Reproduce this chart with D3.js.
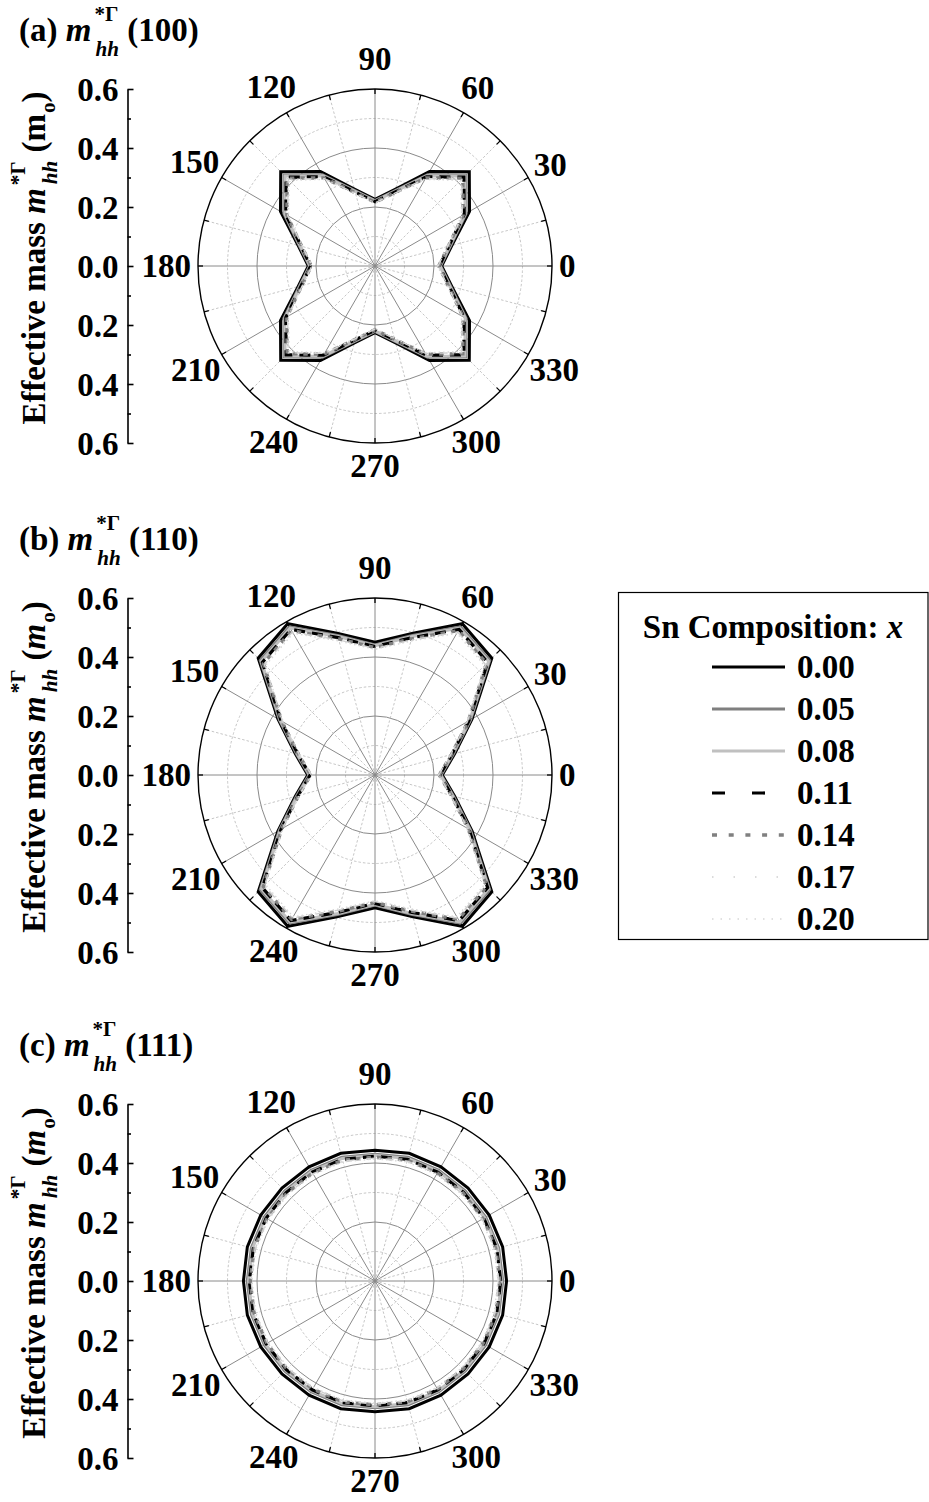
<!DOCTYPE html>
<html>
<head>
<meta charset="utf-8">
<script src="https://cdn.jsdelivr.net/npm/d3@7"></script>
<style>
  html, body { margin: 0; padding: 0; background: #fff; }
  svg text { font-family: "Liberation Serif", "Times New Roman", serif; font-weight: bold; fill: #000; white-space: pre; }
</style>
</head>
<body>
<svg id="chart" width="929" height="1502"></svg>
<script>
// Heavy-hole effective mass (in m0) versus in-plane angle, one quadrant per series
// (0°..90° in 15° steps). Each curve is mirror-symmetric about both axes.
const angleDeg = [0, 15, 30, 45, 60, 75, 90];
const compositions = ["0.00", "0.05", "0.08", "0.11", "0.14", "0.17", "0.20"];
const angleLabels = [0, 30, 60, 90, 120, 150, 180, 210, 240, 270, 300, 330];
const radialTicks = [-0.6, -0.4, -0.2, 0.0, 0.2, 0.4, 0.6];

// (100) plane
const mass100 = [
  [0.226, 0.270, 0.370, 0.452, 0.370, 0.270, 0.226],
  [0.222, 0.265, 0.357, 0.436, 0.357, 0.265, 0.222],
  [0.220, 0.262, 0.353, 0.431, 0.353, 0.262, 0.220],
  [0.218, 0.259, 0.349, 0.426, 0.349, 0.259, 0.218],
  [0.216, 0.257, 0.345, 0.421, 0.345, 0.257, 0.216],
  [0.214, 0.255, 0.342, 0.416, 0.342, 0.255, 0.214],
  [0.212, 0.253, 0.339, 0.411, 0.339, 0.253, 0.212]
];
// (110) plane
const mass110 = [
  [0.228, 0.280, 0.380, 0.560, 0.592, 0.498, 0.450],
  [0.224, 0.275, 0.374, 0.550, 0.580, 0.490, 0.441],
  [0.222, 0.272, 0.371, 0.545, 0.575, 0.486, 0.438],
  [0.220, 0.270, 0.368, 0.540, 0.570, 0.482, 0.435],
  [0.218, 0.268, 0.365, 0.535, 0.565, 0.478, 0.432],
  [0.216, 0.266, 0.362, 0.530, 0.560, 0.474, 0.429],
  [0.214, 0.264, 0.359, 0.525, 0.555, 0.470, 0.426]
];
// (111) plane
const mass111 = [
  [0.446, 0.448, 0.447, 0.446, 0.447, 0.448, 0.443],
  [0.433, 0.434, 0.433, 0.432, 0.433, 0.434, 0.430],
  [0.429, 0.430, 0.429, 0.428, 0.429, 0.430, 0.426],
  [0.426, 0.427, 0.426, 0.425, 0.426, 0.427, 0.423],
  [0.423, 0.424, 0.423, 0.422, 0.423, 0.424, 0.420],
  [0.420, 0.421, 0.420, 0.419, 0.420, 0.421, 0.417],
  [0.417, 0.418, 0.417, 0.416, 0.417, 0.418, 0.414]
];

const panelLetters = ["(a)", "(b)", "(c)"];
const panelPlanes = ["(100)", "(110)", "(111)"];
const panelData = [mass100, mass110, mass111];

// line styles per composition
const seriesStyle = [
  { color: "#000000", width: 3,   dash: null,        legendDash: null },
  { color: "#7f7f7f", width: 3,   dash: null,        legendDash: null },
  { color: "#c0c0c0", width: 3,   dash: null,        legendDash: null },
  { color: "#000000", width: 3.2, dash: "11 7",      legendDash: "13 27" },
  { color: "#808080", width: 3.4, dash: "4.5 6",     legendDash: "5 11.7" },
  { color: "#cfcfcf", width: 1.4, dash: "8 5 1.5 5", legendDash: "1.5 20" },
  { color: "#d8d8d8", width: 1.4, dash: "1.5 3",     legendDash: "1.5 7" }
];

const FONT = 33;
const svg = d3.select("#chart");
const cx = 375, R = 177;
const centersY = [266, 775, 1281];
const rScale = d3.scaleLinear().domain([0, 0.6]).range([0, R]);
const toRad = d => d * Math.PI / 180;

// draws a run of text pieces; {sup, sub} pieces stack a superscript over a subscript
function richText(parent, parts, size) {
  const g = parent.append("g");
  let x = 0;
  parts.forEach(p => {
    if (p.sup !== undefined || p.sub !== undefined) {
      let w = 0;
      const s = size * 0.64;
      if (p.sup) {
        const t = g.append("text").attr("x", x + (p.supShift || 0)).attr("y", -size * 0.6)
          .style("font-size", s + "px").style("font-style", p.supItalic ? "italic" : "normal").text(p.sup);
        w = Math.max(w, t.node().getComputedTextLength() + (p.supShift || 0));
      }
      if (p.sub) {
        const t = g.append("text").attr("x", x + (p.subShift || 0)).attr("y", size * (p.subDrop || 0.45))
          .style("font-size", s + "px").style("font-style", p.subItalic ? "italic" : "normal").text(p.sub);
        w = Math.max(w, t.node().getComputedTextLength() + (p.subShift || 0));
      }
      x += w;
    } else {
      const t = g.append("text").attr("x", x).style("font-size", size + "px")
        .style("font-style", p.italic ? "italic" : "normal").text(p.text);
      x += t.node().getComputedTextLength();
    }
  });
  return { g, width: x };
}

// expand one quadrant to the full circle through the mirror symmetry
function fullCircle(values) {
  const pts = [];
  for (let deg = 0; deg < 360; deg += 15) {
    let q = deg % 180;
    if (q > 90) q = 180 - q;
    pts.push({ deg, val: values[angleDeg.indexOf(q)] });
  }
  return pts;
}

const radial = d3.lineRadial()
  .angle(d => toRad(90 - d.deg))
  .radius(d => rScale(d.val))
  .curve(d3.curveLinearClosed);

panelData.forEach((data, pi) => {
  const cy = centersY[pi];
  const g = svg.append("g").attr("transform", `translate(${cx},${cy})`);

  // grid circles
  [0.1, 0.3, 0.5].forEach(v => g.append("circle").attr("r", rScale(v))
    .attr("fill", "none").attr("stroke", "#b8b8b8").attr("stroke-width", 0.8).attr("stroke-dasharray", "2.5 2"));
  [0.2, 0.4].forEach(v => g.append("circle").attr("r", rScale(v))
    .attr("fill", "none").attr("stroke", "#8a8a8a").attr("stroke-width", 1));

  // spokes
  for (let deg = 15; deg < 360; deg += 30) {
    g.append("line").attr("x1", 0).attr("y1", 0)
      .attr("x2", R * Math.cos(toRad(deg))).attr("y2", -R * Math.sin(toRad(deg)))
      .attr("stroke", "#b8b8b8").attr("stroke-width", 0.8).attr("stroke-dasharray", "2.5 2");
  }
  for (let deg = 0; deg < 360; deg += 30) {
    g.append("line").attr("x1", 0).attr("y1", 0)
      .attr("x2", R * Math.cos(toRad(deg))).attr("y2", -R * Math.sin(toRad(deg)))
      .attr("stroke", "#8a8a8a").attr("stroke-width", 1);
  }

  // curves
  data.forEach((vals, si) => {
    const st = seriesStyle[si];
    g.append("path").datum(fullCircle(vals)).attr("d", radial)
      .attr("fill", "none").attr("stroke", st.color).attr("stroke-width", st.width)
      .attr("stroke-linejoin", "miter").attr("stroke-dasharray", st.dash);
  });

  // outer frame and angular ticks
  g.append("circle").attr("r", R).attr("fill", "none").attr("stroke", "#000").attr("stroke-width", 1.4);
  for (let deg = 0; deg < 360; deg += 15) {
    const c = Math.cos(toRad(deg)), s = Math.sin(toRad(deg));
    g.append("line").attr("x1", (R - 5) * c).attr("y1", -(R - 5) * s)
      .attr("x2", R * c).attr("y2", -R * s).attr("stroke", "#000").attr("stroke-width", 1.3);
  }

  // angular labels
  angleLabels.forEach(a => {
    const t = g.append("text").attr("text-anchor", "middle").style("font-size", FONT + "px").text(a);
    const hw = t.node().getComputedTextLength() / 2;
    const c = Math.cos(toRad(a)), s = Math.sin(toRad(a));
    const v = s > 0 ? 23 : 16;
    const rr = 184 + Math.sqrt((hw * c) ** 2 + (v * s) ** 2);
    t.attr("x", rr * c).attr("y", -rr * s).attr("dy", "0.34em");
  });

  // radial value axis on the left
  const yScale = d3.scaleLinear().domain([0.6, -0.6]).range([cy - R, cy + R]);
  const axX = 127.5;
  const major = svg.append("g").attr("transform", `translate(${axX},0)`)
    .call(d3.axisLeft(yScale).tickValues(radialTicks).tickSizeInner(-6).tickSizeOuter(0).tickPadding(9)
      .tickFormat(v => Math.abs(v).toFixed(1)));
  major.select(".domain").attr("stroke-width", 1.6);
  major.selectAll(".tick line").attr("stroke-width", 1.6);
  major.selectAll(".tick text").attr("font-family", null).attr("font-size", null)
    .style("font-size", FONT + "px").attr("dy", "0.34em");
  const minor = svg.append("g").attr("transform", `translate(${axX},0)`)
    .call(d3.axisLeft(yScale).tickValues([-0.5, -0.3, -0.1, 0.1, 0.3, 0.5]).tickSizeInner(-3.5).tickSizeOuter(0).tickFormat(""));
  minor.select(".domain").remove();
  minor.selectAll(".tick line").attr("stroke-width", 1.6);

  // panel title
  const title = richText(svg, [
    { text: panelLetters[pi] + " " },
    { text: "m", italic: true },
    { sup: "*Γ", sub: "hh", subItalic: true, supShift: 3, subShift: 4 },
    { text: " " + panelPlanes[pi] }
  ], 33);
  title.g.attr("transform", `translate(19,${cy - 225})`);

  // vertical axis title
  const yt = richText(svg, [
    { text: "Effective mass " },
    { text: "m", italic: true },
    { sup: "*Γ", sub: "hh", subItalic: true, supShift: 3, subShift: 4, subDrop: 0.36 },
    { text: " (" },
    { text: "m", italic: pi > 0 },
    { sub: "o", subDrop: 0.3, subShift: 1 },
    { text: ")" }
  ], 33);
  yt.g.attr("transform", `translate(45,${cy - 8}) rotate(-90) translate(${-yt.width / 2},0)`);
});

// legend
const lg = svg.append("g");
lg.append("rect").attr("x", 618.5).attr("y", 592.5).attr("width", 309.5).attr("height", 347)
  .attr("fill", "#fff").attr("stroke", "#000").attr("stroke-width", 1.2);
const lt = richText(lg, [{ text: "Sn Composition: " }, { text: "x", italic: true }], FONT);
lt.g.attr("transform", `translate(${773 - lt.width / 2},638)`);
compositions.forEach((c, i) => {
  const y = 667 + i * 42;
  const st = seriesStyle[i];
  lg.append("line").attr("x1", 712).attr("x2", 785).attr("y1", y).attr("y2", y)
    .attr("stroke", st.color).attr("stroke-width", st.width).attr("stroke-dasharray", st.legendDash);
  lg.append("text").attr("x", 797).attr("y", y).attr("dy", "0.34em").style("font-size", FONT + "px").text(c);
});
</script>
</body>
</html>
